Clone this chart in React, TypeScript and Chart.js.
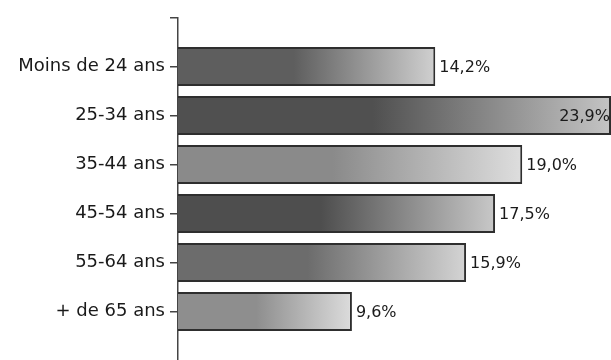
import React, { useEffect, useRef } from "react";
import { Chart, registerables } from "chart.js";

Chart.register(...registerables);

const categories = ["Moins de 24 ans", "25-34 ans", "35-44 ans", "45-54 ans", "55-64 ans", "+ de 65 ans"];
const values = [14.2, 23.9, 19.0, 17.5, 15.9, 9.6];
const startShades = ["#5e5e5e", "#505050", "#8a8a8a", "#4e4e4e", "#6c6c6c", "#8e8e8e"];
const endShades = ["#d0d0d0", "#c4c4c4", "#dedede", "#c8c8c8", "#d4d4d4", "#dcdcdc"];

const labels = ["", ...categories, ""];
const data = [null, ...values, null];

const FONT = "'DejaVu Sans', 'Liberation Sans', sans-serif";

const valueLabelPlugin = {
  id: "valueLabels",
  afterDatasetsDraw(chart: any) {
    const ctx = chart.ctx;
    const meta = chart.getDatasetMeta(0);
    const area = chart.chartArea;
    ctx.save();
    ctx.font = "16px " + FONT;
    ctx.fillStyle = "#1a1a1a";
    ctx.textBaseline = "middle";
    meta.data.forEach((bar: any, i: number) => {
      const v = data[i];
      if (v === null || v === undefined) return;
      const txt = v.toFixed(1).replace(".", ",") + "%";
      const w = ctx.measureText(txt).width;
      if (bar.x + 5 + w > area.right) {
        ctx.textAlign = "right";
        ctx.fillText(txt, area.right - 1, bar.y + 1);
      } else {
        ctx.textAlign = "left";
        ctx.fillText(txt, bar.x + 4, bar.y + 1);
      }
    });
    ctx.restore();
  },
};

export default function App() {
  const ref = useRef<HTMLCanvasElement | null>(null);
  useEffect(() => {
    if (!ref.current) return;
    const chart = new Chart(ref.current, {
      type: "bar",
      data: {
        labels,
        datasets: [
          {
            data,
            backgroundColor: (c: any) => {
              const ch = c.chart;
              const area = ch.chartArea;
              const i = c.dataIndex;
              const v = data[i];
              if (!area || v == null) return "#888";
              const xs = ch.scales.x;
              const end = xs.getPixelForValue(v);
              const g = ch.ctx.createLinearGradient(area.left, 0, end, 0);
              g.addColorStop(0, startShades[i - 1]);
              g.addColorStop(0.45, startShades[i - 1]);
              g.addColorStop(1, endShades[i - 1]);
              return g;
            },
            borderColor: "#2e2e2e",
            borderWidth: 2,
            barPercentage: 0.8,
            categoryPercentage: 1,
          },
        ],
      },
      options: {
        indexAxis: "y",
        responsive: false,
        animation: false,
        layout: { padding: { top: 17.5, bottom: 19.5, left: 0, right: 0 } },
        plugins: { legend: { display: false }, tooltip: { enabled: false } },
        scales: {
          x: { display: false, min: 0, max: 23.9 },
          y: {
            type: "category",
            offset: false,
            grid: { offset: false, drawOnChartArea: false, tickLength: 8, color: "#444", lineWidth: 1.5 },
            border: { color: "#444", width: 1.5 },
            ticks: {
              color: "#1a1a1a",
              padding: 5,
              autoSkip: false,
              font: { family: FONT, size: 18 },
            },
            afterFit: (s: any) => {
              s.width = 178;
            },
          },
        },
      },
      plugins: [valueLabelPlugin],
    } as any);
    return () => chart.destroy();
  }, []);
  return (
    <div style={{ position: "fixed", left: 0, top: 0, width: 611, height: 360, overflow: "hidden", background: "#fff" }}>
      <canvas ref={ref} width={611} height={380} style={{ display: "block" }} />
    </div>
  );
}
